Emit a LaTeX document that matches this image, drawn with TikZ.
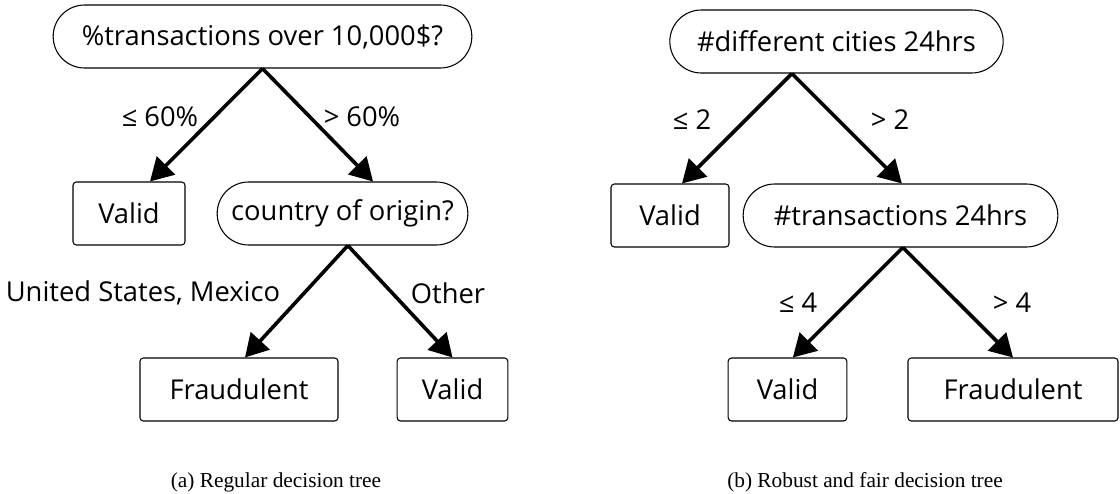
\documentclass[tikz,border=0pt]{standalone}
\usepackage{fontspec}
\setmainfont{Open Sans}
\newfontfamily\capfont{Liberation Serif}
\usetikzlibrary{arrows.meta}
\tikzset{
  nd/.style={draw, line width=0.8pt, inner sep=0pt, minimum height=47.25pt, font=\fontsize{20.5}{24}\selectfont},
  leaf/.style={nd, rounded corners=2.5pt},
  test/.style={nd, rounded corners=23.6pt},
  arr/.style={line width=2.7pt, -{Triangle[length=17pt, width=19pt]}},
  lbl/.style={inner sep=0pt, font=\fontsize{20.5}{24}\selectfont},
  captxt/.style={inner sep=0pt, anchor=base, font=\capfont\fontsize{16}{19}\selectfont}
}
\begin{document}
\begin{tikzpicture}[x=0.75pt,y=-0.75pt]
\useasboundingbox (0,0) rectangle (1120,493);
% left tree
\node[test, minimum width=314pt] (r1) at (262.5,36.5) {\%transactions over 10,000\$?};
\node[leaf, minimum width=84pt] (v1) at (129,213.5) {Valid};
\node[test, minimum width=188pt] (c1) at (342.5,213.5) {country of origin?};
\node[leaf, minimum width=148.5pt] (f1) at (239,389.5) {Fraudulent};
\node[leaf, minimum width=83pt] (v2) at (452.5,389.5) {Valid};
\draw[arr] (r1.south) -- ([xshift=15.75pt]v1.north);
\draw[arr] (r1.south) -- ([xshift=22.9pt]c1.north);
\draw[arr] ([xshift=4pt]c1.south) -- ([xshift=4.5pt]f1.north);
\draw[arr] ([xshift=4pt]c1.south) -- (v2.north);
\node[lbl] (l1) at (160,117) {≤ 60\%};
\node[lbl] (l2) at (362,117) {> 60\%};
\node[lbl] (l3) at (143,293) {United States, Mexico};
\node[lbl] (l4) at (448,293) {Other};
% right tree
\node[test, minimum width=250pt] (r2) at (836.5,41.5) {\#different cities 24hrs};
\node[leaf, minimum width=88.5pt] (v3) at (670,215.5) {Valid};
\node[test, minimum width=236pt] (t2) at (900.5,215.5) {\#transactions 24hrs};
\node[leaf, minimum width=89pt] (v4) at (787.5,389.5) {Valid};
\node[leaf, minimum width=157.5pt] (f2) at (1013,389.5) {Fraudulent};
\draw[arr] ([xshift=-33.4pt]r2.south) -- ([xshift=9pt]v3.north);
\draw[arr] ([xshift=-33.4pt]r2.south) -- ([xshift=1pt]t2.north);
\draw[arr] ([xshift=1.8pt]t2.south) -- ([xshift=4pt]v4.north);
\draw[arr] ([xshift=1.8pt]t2.south) -- (f2.north);
\node[lbl] (l5) at (692,120) {≤ 2};
\node[lbl] (l6) at (890,120) {> 2};
\node[lbl] (l7) at (798,303) {≤ 4};
\node[lbl] (l8) at (1012,303) {> 4};
% captions
\node[captxt] (ca) at (276,487) {(a) Regular decision tree};
\node[captxt] (cb) at (865,487) {(b) Robust and fair decision tree};
\end{tikzpicture}
\end{document}
